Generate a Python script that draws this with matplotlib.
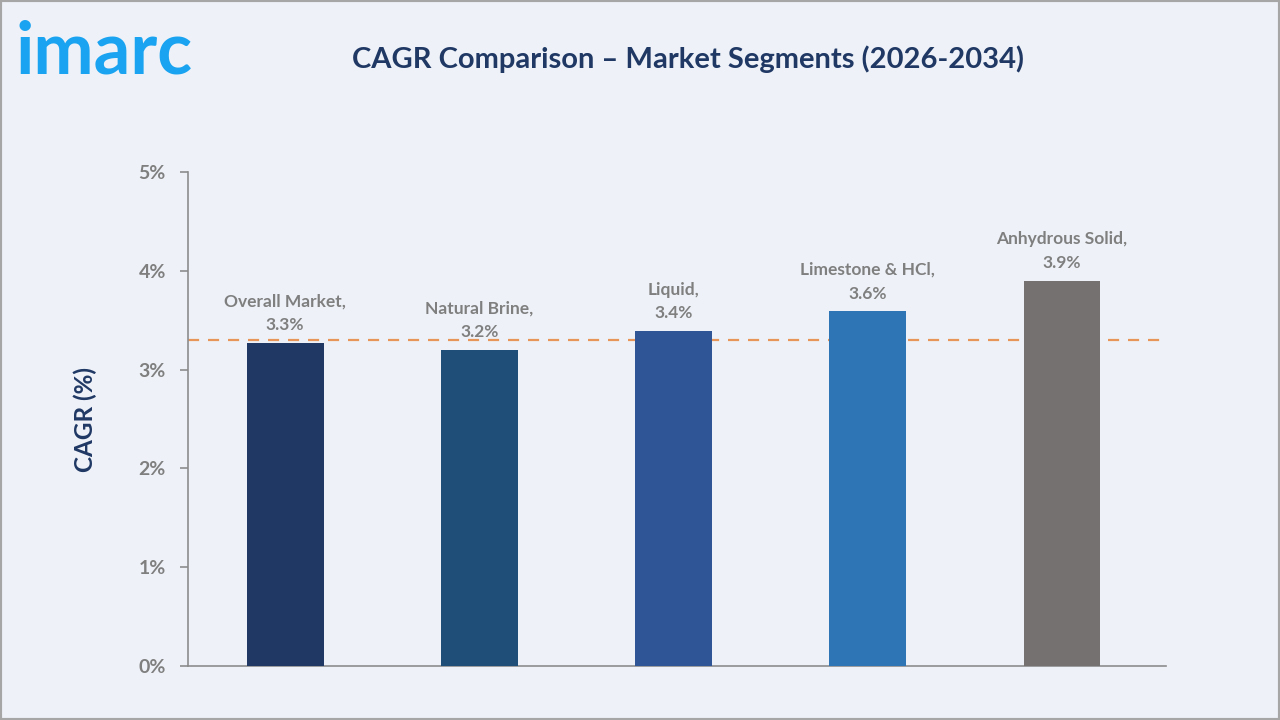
import matplotlib.pyplot as plt
from matplotlib.patches import Rectangle

segments = ['Overall Market', 'Natural Brine', 'Liquid', 'Limestone & HCl', 'Anhydrous Solid']
cagr = [3.27, 3.20, 3.39, 3.59, 3.90]
overall_line = 3.3
bar_colors = ['#1F3864', '#1F4E79', '#2F5597', '#2E75B6', '#767171']
yticks = [0, 1, 2, 3, 4, 5]

plt.rcParams['font.family'] = ['Lato', 'DejaVu Sans']

bg = '#EEF2F8'
navy = '#1F3864'
grey = '#7F7F7F'

fig = plt.figure(figsize=(12.8, 7.2), dpi=100, facecolor=bg)
ax = fig.add_axes([0.1469, 0.075, 0.764, 0.686], facecolor=bg)

x = list(range(len(segments)))
ax.bar(x, cagr, width=0.395, color=bar_colors, zorder=3)
ax.axhline(overall_line, color='#E8955A', linestyle=(0, (5, 4)), linewidth=1.6, zorder=2)

for xi, name, v in zip(x, segments, cagr):
    ax.annotate('%s,\n%.1f%%' % (name, v), (xi, v), xytext=(0, 7),
                textcoords='offset points', ha='center', va='bottom',
                fontsize=12.5, fontweight='bold', color=grey, linespacing=1.6)

ax.set_xlim(-0.5, 4.535)
ax.set_ylim(0, 5)
ax.set_yticks(yticks)
ax.set_yticklabels(['%d%%' % t for t in yticks])
ax.set_xticks([])
for s in ['top', 'right']:
    ax.spines[s].set_visible(False)
for s in ['left', 'bottom']:
    ax.spines[s].set_color('#8C8C8C')
    ax.spines[s].set_linewidth(1.2)
ax.tick_params(axis='y', colors='#8C8C8C', labelcolor=grey, length=6, width=1.2, pad=10,
               labelsize=14)
for lbl in ax.get_yticklabels():
    lbl.set_fontweight('bold')

ax.set_ylabel('CAGR (%)', fontsize=17.5, fontweight='bold', color=navy, labelpad=30)

fig.text(0.5375, 0.918, 'CAGR Comparison \u2013 Market Segments (2026-2034)', ha='center', va='center',
         fontsize=21, fontweight='bold', color=navy)
fig.text(0.012, 0.926, 'imarc', ha='left', va='center', fontsize=52, fontweight='bold',
         color='#1AA3F0')

fig.patches.append(Rectangle((0, 0), 1, 1, transform=fig.transFigure, fill=False,
                             edgecolor='#A6A6A6', linewidth=3))

fig.savefig('out.png', dpi=100, facecolor=bg)
